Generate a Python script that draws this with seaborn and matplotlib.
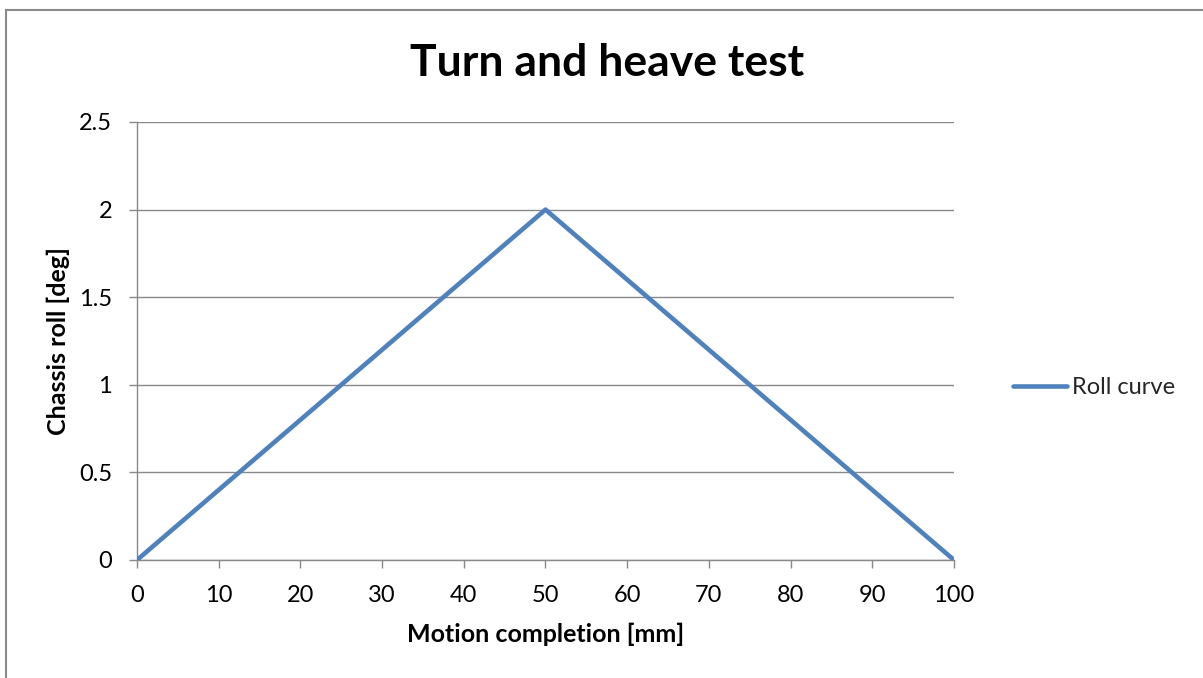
import matplotlib
matplotlib.use("Agg")
import matplotlib.pyplot as plt
import seaborn as sns
import pandas as pd
from matplotlib.patches import Rectangle
from matplotlib.lines import Line2D

motion_mm = [0, 50, 100]
roll_deg = [0, 2, 0]
series_name = "Roll curve"
x_ticks = [0, 10, 20, 30, 40, 50, 60, 70, 80, 90, 100]
y_ticks = [0, 0.5, 1, 1.5, 2, 2.5]
y_ticklabels = ["0", "0.5", "1", "1.5", "2", "2.5"]

sns.set_theme(style="white")
plt.rcParams['font.family'] = ['Lato', 'DejaVu Sans']

W, H = 1203, 678
L, R, T, B = 137, 954, 122, 560
fig = plt.figure(figsize=(W / 100, H / 100), dpi=100)
ax = fig.add_axes([L / W, 1 - B / H, (R - L) / W, (B - T) / H])

df = pd.DataFrame({"x": motion_mm, "y": roll_deg, "s": series_name})
sns.lineplot(data=df, x="x", y="y", ax=ax, color="#4F81BD", linewidth=3.3,
             legend=False, zorder=3, solid_joinstyle="round",
             solid_capstyle="round")

ax.set_xlim(0, 100)
ax.set_ylim(0, 2.5)
ax.set_xticks(x_ticks)
ax.set_xticklabels([str(t) for t in x_ticks])
ax.set_yticks(y_ticks)
ax.set_yticklabels(y_ticklabels)
ax.yaxis.grid(True, color="#898989", linewidth=1.0)
ax.xaxis.grid(False)
ax.set_axisbelow(True)
for s in ["top", "right"]:
    ax.spines[s].set_visible(False)
for s in ["left", "bottom"]:
    ax.spines[s].set_visible(True)
    ax.spines[s].set_color("#898989")
    ax.spines[s].set_linewidth(1.0)
ax.tick_params(axis="both", which="major", direction="out", length=6,
               width=1.0, color="#898989", labelsize=17, labelcolor="black",
               bottom=True, left=True)
ax.tick_params(axis="y", pad=12)
ax.tick_params(axis="x", pad=12)

ax.set_xlabel("Motion completion [mm]", fontsize=18, fontweight="bold",
              color="black", va="center")
ax.set_ylabel("Chassis roll [deg]", fontsize=18, fontweight="bold",
              color="black", va="center")
ax.xaxis.set_label_coords(0.5, (B - 634) / (B - T))
ax.yaxis.set_label_coords((58 - L) / (R - L), 0.5)

fig.text(607 / W, 1 - 63 / H,
         "Turn and heave test", ha="center", va="center",
         fontsize=32, fontweight="bold", color="black")

handle = Line2D([], [], color="#4F81BD", linewidth=3.3, solid_capstyle="round")
fig.legend([handle], [series_name], loc="center left",
           bbox_to_anchor=(1013 / W, 1 - 388 / H), frameon=False,
           fontsize=17, handlelength=2.3, handletextpad=0.2,
           borderpad=0, borderaxespad=0)

fig.patches.append(Rectangle((6 / W, -0.05), 1.2, 1 - 10 / H + 0.05,
                             transform=fig.transFigure, fill=False,
                             edgecolor="#898989", linewidth=1.5))

fig.savefig("out.png", dpi=100)
